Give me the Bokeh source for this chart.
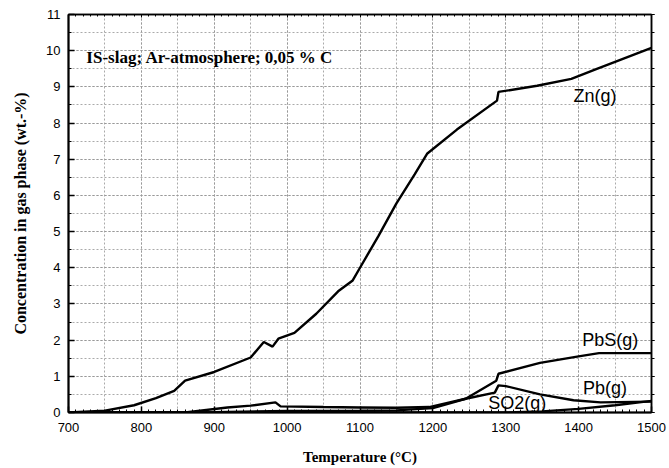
from bokeh.plotting import figure
from bokeh.models import (ColumnDataSource, LinearAxis, SingleIntervalTicker, Label,
                          Range1d, CustomJSTickFormatter)
from bokeh.embed import file_html
from bokeh.resources import INLINE

# ---- data ----
zn_t = [700, 750, 790, 820, 845, 860, 900, 950, 968, 980, 988, 1010, 1040, 1070, 1090,
        1100, 1125, 1150, 1175, 1192, 1233, 1288, 1290, 1343, 1390, 1425, 1500]
zn_v = [0.0, 0.05, 0.2, 0.4, 0.6, 0.88, 1.12, 1.52, 1.95, 1.82, 2.04, 2.2, 2.73, 3.35, 3.65,
        4.0, 4.87, 5.78, 6.58, 7.15, 7.82, 8.62, 8.86, 9.03, 9.22, 9.5, 10.08]

pbs_t = [700, 900, 1000, 1100, 1150, 1200, 1245, 1287, 1290, 1347, 1400, 1428, 1500]
pbs_v = [0.0, 0.01, 0.04, 0.05, 0.06, 0.12, 0.38, 0.88, 1.07, 1.37, 1.55, 1.64, 1.64]

pb_t = [700, 860, 918, 950, 984, 991, 1050, 1100, 1150, 1195, 1245, 1285, 1290, 1300,
        1347, 1393, 1430, 1500]
pb_v = [0.0, 0.0, 0.14, 0.19, 0.28, 0.17, 0.15, 0.14, 0.13, 0.15, 0.38, 0.55, 0.75, 0.73,
        0.5, 0.34, 0.28, 0.3]

so2_t = [700, 1300, 1350, 1400, 1450, 1500]
so2_v = [0.0, 0.0, 0.03, 0.1, 0.2, 0.32]

x_ticks = [700, 800, 900, 1000, 1100, 1200, 1300, 1400, 1500]
y_ticks = list(range(0, 12))

series_labels = ["Zn(g)", "PbS(g)", "Pb(g)", "SO2(g)"]
label_x = [1393, 1405, 1406, 1276]
label_y = [8.75, 2.0, 0.68, 0.26]

note = "IS-slag; Ar-atmosphere; 0,05 % C"

p = figure(width=669, height=468, output_backend="svg", toolbar_location=None,
           x_range=Range1d(700, 1500), y_range=Range1d(0, 11),
           min_border_left=68, min_border_right=18, min_border_top=14, min_border_bottom=56,
           x_axis_label="Temperature (\u00b0C)",
           y_axis_label="Concentration in gas phase (wt.-%)")
p.outline_line_color = "black"
p.outline_line_width = 1.5
p.background_fill_color = "white"
p.border_fill_color = "white"

p.xaxis.ticker = SingleIntervalTicker(interval=100, num_minor_ticks=10)
p.yaxis.ticker = SingleIntervalTicker(interval=1, num_minor_ticks=2)

for ax in (p.xaxis[0], p.yaxis[0]):
    ax.axis_line_color = "black"
    ax.axis_line_width = 2
    ax.major_tick_in = 6
    ax.major_tick_out = 0
    ax.minor_tick_in = 3
    ax.minor_tick_out = 0
    ax.major_tick_line_width = 1.5
    ax.major_label_text_font = "Liberation Sans"
    ax.major_label_text_font_size = "13px"
    ax.major_label_text_color = "black"
    ax.axis_label_text_font = "Liberation Serif"
    ax.axis_label_text_font_style = "bold"
    ax.axis_label_text_color = "black"

p.xaxis.axis_label_text_font_size = "15px"
p.yaxis.axis_label_text_font_size = "16px"
p.xaxis.major_label_standoff = 10
p.xaxis.axis_label_standoff = 14
p.yaxis.major_label_standoff = 8
p.yaxis.axis_label_standoff = 14

top = LinearAxis(ticker=SingleIntervalTicker(interval=100, num_minor_ticks=10),
                 formatter=CustomJSTickFormatter(code="return ''"),
                 major_tick_in=3, major_tick_out=0,
                 minor_tick_in=2, minor_tick_out=0, axis_line_width=1.5)
right = LinearAxis(ticker=SingleIntervalTicker(interval=1, num_minor_ticks=2),
                   formatter=CustomJSTickFormatter(code="return ''"),
                   major_tick_in=0, major_tick_out=3,
                   minor_tick_in=0, minor_tick_out=3, axis_line_width=1.5)
p.add_layout(top, "above")
p.add_layout(right, "right")

p.xgrid.ticker = SingleIntervalTicker(interval=100, num_minor_ticks=2)
p.ygrid.ticker = SingleIntervalTicker(interval=1, num_minor_ticks=2)
for g in (p.xgrid[0], p.ygrid[0]):
    g.grid_line_color = "#999999"
    g.grid_line_dash = "2 2"
    g.grid_line_width = 1
    g.minor_grid_line_color = "#aaaaaa"
    g.minor_grid_line_dash = "2 2"
    g.minor_grid_line_width = 1

for t, v in ((so2_t, so2_v), (pbs_t, pbs_v), (pb_t, pb_v), (zn_t, zn_v)):
    p.line(t, v, line_color="black", line_width=2.4)

src = ColumnDataSource(dict(x=label_x, y=label_y, t=series_labels))
p.text(x="x", y="y", text="t", source=src, text_font={"value": "Liberation Sans"},
       text_font_size="18px", text_baseline="middle", text_align="left", text_color="black")

p.add_layout(Label(x=724.5, y=9.81, text=note, text_font="Liberation Serif",
                   text_font_style="bold", text_font_size="17px", text_baseline="middle",
                   text_color="black"))

open("out.html", "w").write(file_html(p, INLINE))
